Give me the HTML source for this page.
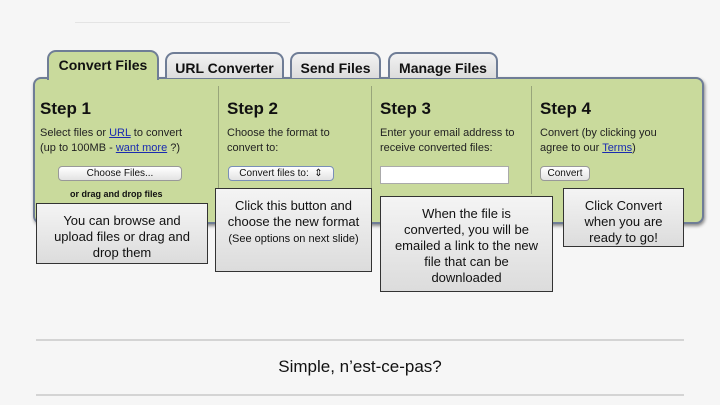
<!DOCTYPE html>
<html><head><style>
body{margin:0;width:720px;height:405px;background:#f6f6f6;position:relative;overflow:hidden;font-family:"Liberation Sans",sans-serif}
.a{position:absolute}
.tab{position:absolute;border:2px solid #6f7d96;border-bottom:none;border-radius:9px 9px 0 0;background:linear-gradient(#f2f2f2,#dcdcdc);font-weight:bold;font-size:14px;text-align:center;color:#111;box-sizing:border-box;padding-top:5px}
.panel{left:33px;top:77px;width:671px;height:147px;background:#c9da9c;border:2px solid #6f7d96;border-radius:8px;box-sizing:border-box;box-shadow:1px 2px 3px #888}
.div{width:1px;background:#98a57a;top:86px;height:108px}
h2{position:absolute;margin:0;font-size:17px;font-weight:bold;color:#111}
.t{font-size:11px;line-height:15px;color:#222}
a{color:#1a2bb0}
.btn{border:1px solid #999;border-radius:4px;background:linear-gradient(#fff,#e3e3e3);font-size:10px;text-align:center;box-sizing:border-box;color:#111}
.call{border:1px solid #333;background:linear-gradient(#f4f4f4,#dcdcdc);box-sizing:border-box;text-align:center;font-size:13px;line-height:16px;color:#111}
</style></head><body>
<div class="a" style="left:75px;top:22px;width:215px;height:1px;background:#e4e4e4"></div>
<div class="panel a"></div>
<div class="tab" style="left:47px;top:50px;width:112px;height:30px;background:#c9da9c">Convert Files</div>
<div class="tab" style="left:165px;top:52px;width:119px;height:26px;padding-top:6px">URL Converter</div>
<div class="tab" style="left:290px;top:52px;width:91px;height:26px;padding-top:6px">Send Files</div>
<div class="tab" style="left:388px;top:52px;width:110px;height:26px;padding-top:6px">Manage Files</div>
<div class="a div" style="left:218px"></div>
<div class="a div" style="left:371px"></div>
<div class="a div" style="left:531px"></div>
<h2 style="left:40px;top:99px">Step 1</h2>
<h2 style="left:227px;top:99px">Step 2</h2>
<h2 style="left:380px;top:99px">Step 3</h2>
<h2 style="left:540px;top:99px">Step 4</h2>
<div class="a t" style="left:40px;top:126px">Select files or <a href="#">URL</a> to convert<br>(up to 100MB - <a href="#">want more</a> ?)</div>
<div class="a t" style="left:227px;top:126px">Choose the format to<br>convert to:</div>
<div class="a t" style="left:380px;top:126px">Enter your email address to<br>receive converted files:</div>
<div class="a t" style="left:540px;top:126px">Convert (by clicking you<br>agree to our <a href="#">Terms</a>)</div>
<div class="a btn" style="left:58px;top:166px;width:124px;height:15px;line-height:13px">Choose Files...</div>
<div class="a" style="left:70px;top:189px;font-size:9px;font-weight:bold;color:#111">or drag and drop files</div>
<div class="a btn" style="left:228px;top:166px;width:106px;height:15px;line-height:13px;border-color:#7a8fb8">Convert files to: &nbsp;&#8661;</div>
<div class="a" style="left:380px;top:166px;width:129px;height:18px;background:#fff;border:1px solid #aaa;box-sizing:border-box"></div>
<div class="a btn" style="left:540px;top:166px;width:50px;height:15px;line-height:13px">Convert</div>
<div class="a call" style="left:36px;top:203px;width:172px;height:61px;padding-top:9px">You can browse and<br>upload files or drag and<br>drop them</div>
<div class="a call" style="left:215px;top:188px;width:157px;height:84px;padding-top:9px">Click this button and<br>choose the new format<br><span style="font-size:11px">(See options on next slide)</span></div>
<div class="a call" style="left:380px;top:196px;width:173px;height:96px;padding-top:9px">When the file is<br>converted, you will be<br>emailed a link to the new<br>file that can be<br>downloaded</div>
<div class="a call" style="left:563px;top:188px;width:121px;height:59px;padding-top:9px">Click Convert<br>when you are<br>ready to go!</div>
<div class="a" style="left:36px;top:339px;width:648px;height:2px;background:#d4d4d4"></div>
<div class="a" style="left:36px;top:394px;width:648px;height:2px;background:#d4d4d4"></div>
<div class="a" style="left:0;width:720px;top:357px;text-align:center;font-size:17px;color:#111">Simple, n’est-ce-pas?</div>
</body></html>
